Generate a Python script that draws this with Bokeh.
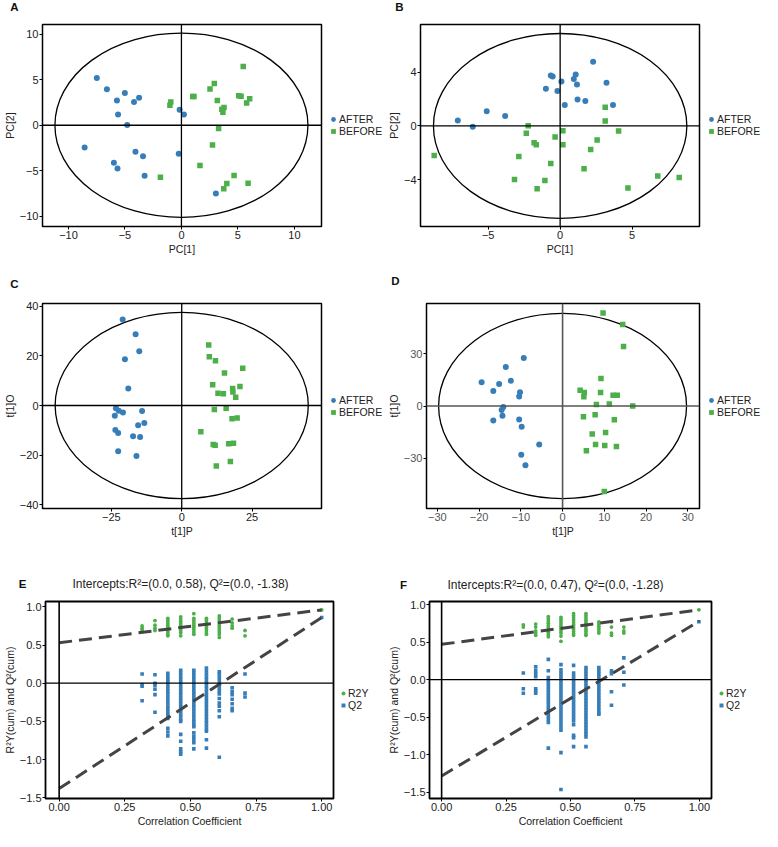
from bokeh.plotting import figure
from bokeh.models import (Span, Label, Legend, LegendItem, FixedTicker, Range1d,
                          CustomJSTickFormatter)
from bokeh.layouts import column, row
from bokeh.embed import file_html
from bokeh.resources import INLINE

FONT = "Liberation Sans"
BLUE = "#377EB8"
GREEN = "#4DAF4A"

# ---------------- Panel A (PCA) ----------------
a_after_x = [-7.49, -6.60, -5.71, -5.01, -4.20, -3.75, -5.61, -4.80, -0.16, 0.22, -8.57, -5.98, -5.66, -4.07, -3.40, -3.26, -0.24, 3.05]
a_after_y = [5.18, 3.94, 2.73, 3.55, 2.55, 3.01, 1.17, 0.04, 1.70, 1.17, -2.45, -4.11, -4.75, -2.91, -3.40, -5.53, -3.12, -7.48]
a_before_x = [5.47, 2.91, 2.53, 1.00, 1.11, -0.94, -1.02, 3.18, 3.77, 3.58, 3.67, 5.07, 5.28, 6.04, 5.77, 3.29, 2.75, 1.64, -1.86, 4.66, 4.02, 3.75, 5.90]
a_before_y = [6.45, 4.57, 3.97, 3.16, 3.16, 2.55, 2.20, 2.73, 1.95, 1.77, 1.42, 3.23, 3.19, 2.91, 2.45, -0.35, -2.16, -4.40, -5.71, -5.50, -6.38, -6.95, -6.35]
a_ellipse = [11.2, 10.1]
a_xticks = [-10, -5, 0, 5, 10]
a_yticks = [-10, -5, 0, 5, 10]

# ---------------- Panel B (PCA) ----------------
b_after_x = [-7.11, -6.07, -5.10, -3.82, -0.65, -0.52, -0.99, -0.19, 0.09, 0.32, 1.08, 0.95, 1.17, 1.21, 1.75, 2.29, 3.22, 3.67]
b_after_y = [0.40, -0.05, 1.09, 0.74, 3.76, 3.69, 2.77, 2.60, 3.32, 1.56, 3.84, 3.51, 3.09, 1.98, 1.86, 4.80, 3.22, 1.56]
b_before_x = [-8.75, -2.22, -2.35, -1.81, -1.66, -2.87, -3.17, -1.60, -1.06, -0.65, -0.35, 0.19, 0.19, 1.66, 2.12, 2.57, 3.13, 3.13, 4.06, 4.71, 6.78, 8.27]
b_before_y = [-2.20, 0.02, -0.54, -1.26, -1.41, -2.28, -3.99, -4.68, -4.06, -2.80, -0.82, -0.35, -1.41, -3.19, -1.76, -1.04, 1.39, 0.37, -0.37, -4.63, -3.74, -3.84]
b_ellipse = [8.8, 6.9]
b_xticks = [-5, 0, 5]
b_yticks = [-4, 0, 4]

# ---------------- Panel C (OPLS-DA) ----------------
c_after_x = [-21.0, -16.4, -15.1, -20.2, -19.0, -23.4, -22.4, -20.9, -23.8, -14.1, -15.5, -13.3, -23.6, -22.6, -17.3, -14.8, -22.6, -16.1]
c_after_y = [34.7, 28.8, 21.9, 18.7, 6.9, -1.1, -2.1, -2.8, -4.1, -2.2, -8.0, -7.1, -9.9, -11.1, -12.4, -12.7, -18.5, -20.4]
c_before_x = [9.6, 9.8, 12.0, 15.2, 21.7, 11.0, 12.9, 14.8, 18.1, 18.2, 20.7, 19.2, 11.6, 15.8, 17.9, 19.7, 6.8, 11.2, 11.9, 16.7, 18.4, 12.3, 17.3]
c_before_y = [24.4, 19.7, 18.1, 13.1, 15.0, 8.4, 4.9, 4.7, 6.9, 5.5, 7.7, 3.3, -1.6, -1.1, -5.4, -5.0, -10.6, -15.7, -16.1, -15.4, -15.2, -24.4, -22.6]
c_ellipse = [45.0, 37.6]
c_xticks = [-25, 0, 25]
c_yticks = [-40, -20, 0, 20, 40]

# ---------------- Panel D (OPLS-DA) ----------------
d_after_x = [-19.4, -16.6, -15.2, -13.6, -12.4, -9.3, -10.2, -10.4, -14.2, -14.6, -14.4, -16.6, -10.4, -9.8, -5.6, -9.9, -8.9]
d_after_y = [13.7, 8.6, 12.6, 22.5, 14.6, 27.6, 7.9, 5.4, -0.6, -2.3, -5.6, -8.3, -7.7, -12.0, -22.1, -28.0, -34.1]
d_before_x = [9.7, 14.4, 14.6, 9.2, 4.2, 5.2, 5.1, 9.1, 12.1, 13.1, 8.1, 11.2, 16.8, 5.0, 7.8, 12.4, 7.1, 10.3, 7.9, 10.1, 12.9, 5.7, 10.0]
d_before_y = [53.5, 46.9, 34.3, 15.9, 9.0, 7.7, 5.3, 7.7, 6.2, 6.2, 0.9, 1.1, 0.0, -6.2, -5.1, -7.9, -16.1, -15.2, -22.1, -22.7, -23.3, -25.7, -49.2]
d_ellipse = [29.7, 53.3]
d_xticks = [-30, -20, -10, 0, 10, 20, 30]
d_yticks = [-30, 0, 30]

# ---------------- Panel E (permutation test) ----------------
e_cols = [0.316, 0.365, 0.414, 0.463, 0.513, 0.561, 0.610, 0.659, 0.708, 1.0]
e_r2y = [
    [0.75, 0.72, 0.69],
    [0.82, 0.76, 0.72, 0.69],
    [0.85, 0.82, 0.79, 0.76, 0.73, 0.70, 0.67, 0.64, 0.62],
    [0.87, 0.84, 0.81, 0.78, 0.75, 0.72, 0.69, 0.66, 0.62],
    [0.91, 0.85, 0.82, 0.79, 0.76, 0.73, 0.70, 0.67, 0.64],
    [0.85, 0.82, 0.79, 0.76, 0.73, 0.70, 0.67, 0.64],
    [0.88, 0.85, 0.82, 0.79, 0.76, 0.73, 0.70, 0.67, 0.64, 0.60],
    [0.84, 0.79, 0.75, 0.72],
    [0.69, 0.62],
    [0.96],
]
e_q2 = [
    [0.12, -0.02, -0.04, -0.23],
    [0.11, 0.00, -0.03, -0.08, -0.15, -0.38],
    [0.13, 0.09, 0.05, 0.02, -0.02, -0.06, -0.10, -0.14, -0.18, -0.22, -0.26, -0.30, -0.34, -0.38, -0.42, -0.46, -0.59, -0.64, -0.69],
    [0.17, 0.13, 0.09, 0.05, 0.01, -0.03, -0.07, -0.11, -0.15, -0.19, -0.23, -0.27, -0.31, -0.35, -0.39, -0.43, -0.47, -0.50, -0.67, -0.76, -0.86, -0.90, -0.93],
    [0.17, 0.13, 0.09, 0.05, 0.01, -0.03, -0.07, -0.11, -0.15, -0.19, -0.23, -0.27, -0.31, -0.35, -0.39, -0.43, -0.47, -0.51, -0.55, -0.57, -0.65, -0.70, -0.74, -0.78, -0.86],
    [0.20, 0.16, 0.12, 0.08, 0.04, 0.00, -0.04, -0.08, -0.12, -0.16, -0.20, -0.24, -0.28, -0.32, -0.36, -0.40, -0.44, -0.48, -0.52, -0.56, -0.60, -0.63, -0.74, -0.85],
    [0.15, 0.12, 0.08, 0.03, -0.02, -0.06, -0.10, -0.14, -0.20, -0.26, -0.30, -0.36, -0.44, -0.97],
    [-0.06, -0.11, -0.15, -0.21, -0.27, -0.33, -0.36],
    [0.12, -0.13, -0.18],
    [0.86],
]
e_r2_line = [0.53, 0.96]
e_q2_line = [-1.38, 0.86]
e_title = "Intercepts:R\u00b2=(0.0, 0.58), Q\u00b2=(0.0, -1.38)"

# ---------------- Panel F (permutation test) ----------------
f_cols = [0.317, 0.365, 0.414, 0.463, 0.512, 0.560, 0.610, 0.659, 0.707, 0.998]
f_r2y = [
    [0.73, 0.70],
    [0.74, 0.70, 0.65, 0.62, 0.59],
    [0.84, 0.81, 0.78, 0.75, 0.72, 0.69, 0.66, 0.63, 0.60, 0.57],
    [0.83, 0.80, 0.77, 0.74, 0.71, 0.68, 0.65, 0.62, 0.58, 0.51],
    [0.88, 0.85, 0.82, 0.79, 0.76, 0.73, 0.70, 0.67, 0.64, 0.61, 0.59],
    [0.88, 0.85, 0.82, 0.79, 0.76, 0.73, 0.70, 0.67, 0.64, 0.61, 0.59],
    [0.77, 0.74, 0.71, 0.68, 0.65, 0.62],
    [0.77, 0.70, 0.62, 0.59],
    [0.70, 0.65, 0.62],
    [0.93],
]
f_q2 = [
    [0.09, -0.12, -0.18],
    [0.17, 0.12, 0.08, 0.04, -0.12, -0.15, -0.18],
    [0.27, 0.12, 0.03, -0.01, -0.05, -0.09, -0.13, -0.17, -0.21, -0.25, -0.29, -0.33, -0.37, -0.41, -0.45, -0.49, -0.53, -0.57, -0.91],
    [0.20, 0.13, 0.09, 0.05, 0.01, -0.03, -0.07, -0.11, -0.15, -0.19, -0.23, -0.27, -0.31, -0.35, -0.39, -0.43, -0.47, -0.51, -0.55, -0.59, -0.63, -0.67, -0.97, -1.46],
    [0.19, 0.09, 0.05, 0.01, -0.03, -0.07, -0.11, -0.15, -0.19, -0.23, -0.27, -0.31, -0.35, -0.39, -0.43, -0.47, -0.51, -0.55, -0.60, -0.74, -0.77, -0.89],
    [0.16, 0.12, 0.08, 0.04, 0.00, -0.04, -0.08, -0.12, -0.16, -0.20, -0.24, -0.28, -0.32, -0.36, -0.40, -0.44, -0.48, -0.52, -0.56, -0.60, -0.64, -0.68, -0.72, -0.76, -0.89],
    [0.16, 0.12, 0.08, 0.04, 0.00, -0.04, -0.08, -0.12, -0.16, -0.20, -0.24, -0.28, -0.32, -0.36, -0.40, -0.44, -0.46],
    [0.12, 0.08, -0.16, -0.34],
    [0.29, 0.10, -0.07],
    [0.77],
]
f_r2_line = [0.47, 0.93]
f_q2_line = [-1.28, 0.78]
f_title = "Intercepts:R\u00b2=(0.0, 0.47), Q\u00b2=(0.0, -1.28)"

line_x = [0.0, 1.0]
group_labels = ["AFTER", "BEFORE"]
perm_labels = ["R2Y", "Q2"]


def style(p, tick_color="#222222", outline=1.5):
    p.outline_line_color = "black"
    p.outline_line_width = outline
    p.outline_line_alpha = 1.0
    p.xgrid.visible = False
    p.ygrid.visible = False
    p.background_fill_color = "white"
    p.border_fill_color = "white"
    for ax in (p.xaxis, p.yaxis):
        ax.axis_line_color = None
        ax.major_tick_in = 0
        ax.major_tick_out = 3
        ax.minor_tick_line_color = None
        ax.major_tick_line_color = "black"
        ax.major_label_text_font = FONT
        ax.major_label_text_font_size = "11px"
        ax.major_label_text_color = tick_color
        ax.major_label_standoff = 1
        ax.axis_label_text_font = FONT
        ax.axis_label_text_font_size = "10.5px"
        ax.axis_label_text_font_style = "normal"
        ax.axis_label_text_color = "#222222"
        ax.axis_label_standoff = 1


def blank_fig(W, H, top=0, bottom=0):
    q = figure(width=W, height=H, x_range=Range1d(0, 1), y_range=Range1d(0, 1),
               x_axis_type=None, y_axis_type=None, output_backend="svg",
               toolbar_location=None, min_border_left=0, min_border_right=0,
               min_border_top=top, min_border_bottom=bottom)
    q.outline_line_color = None
    q.background_fill_color = "white"
    q.border_fill_color = "white"
    return q


def legend_fig(W, H, top, bottom, labels, markers, colors, glyph, x0, y0):
    # legend panel sharing the frame borders of its row; (x0, y0) = legend's
    # lower-left corner in screen px inside that frame
    q = blank_fig(W, H, top, bottom)
    items = []
    for lab, mk, col in zip(labels, markers, colors):
        r = q.scatter([-5], [-5], marker=mk, size=5, fill_color=col, line_color=None)
        items.append(LegendItem(label=lab, renderers=[r]))
    q.add_layout(Legend(items=items, location=(x0, y0), orientation="vertical",
                        border_line_color=None, background_fill_alpha=0,
                        padding=0, spacing=0, margin=0,
                        label_text_font=FONT, label_text_font_size="10.5px",
                        label_text_color="#222222", label_standoff=0,
                        glyph_width=glyph, glyph_height=glyph, label_height=10))
    return q


def header_fig(H, texts):
    q = blank_fig(762, H)
    for txt, x, y_top, bold, size in texts:
        q.add_layout(Label(x=x, y=H - y_top, x_units="screen", y_units="screen",
                           text=txt, text_font=FONT, text_font_size=size,
                           text_font_style="bold" if bold else "normal",
                           text_color="#111111" if bold else "#222222",
                           text_align="center", text_baseline="middle"))
    return q


def score_plot(ax_, ay_, bx_, by_, ell, xr, yr, xticks, yticks, xlabel, ylabel,
               W, H, left, top, bottom, cross_color="black", tick_color="#222222", cross_w=1.3):
    p = figure(width=W, height=H, x_range=Range1d(*xr), y_range=Range1d(*yr),
               output_backend="svg", toolbar_location=None,
               min_border_left=left, min_border_right=2,
               min_border_top=top, min_border_bottom=bottom)
    style(p, tick_color)
    p.xaxis.ticker = FixedTicker(ticks=xticks)
    p.yaxis.ticker = FixedTicker(ticks=yticks)
    p.xaxis.axis_label = xlabel
    p.yaxis.axis_label = ylabel
    p.add_layout(Span(location=0, dimension="width", line_color=cross_color, line_width=cross_w))
    p.add_layout(Span(location=0, dimension="height", line_color=cross_color, line_width=cross_w))
    p.ellipse(x=[0], y=[0], width=[2 * ell[0]], height=[2 * ell[1]],
              fill_color=None, line_color="black", line_width=1.3)
    p.scatter(ax_, ay_, marker="circle", size=6, fill_color=BLUE, line_color=None)
    p.scatter(bx_, by_, marker="square", size=5.5, fill_color=GREEN, line_color=None)
    return p


def flatten(cols, vals):
    xs, ys = [], []
    for c, vs in zip(cols, vals):
        for v in vs:
            xs.append(c)
            ys.append(v)
    return xs, ys


def perm_plot(cols, r2y, q2, r2line, q2line, xr, yr, W, H, left, top, bottom):
    p = figure(width=W, height=H, x_range=Range1d(*xr), y_range=Range1d(*yr),
               output_backend="svg", toolbar_location=None,
               min_border_left=left, min_border_right=2,
               min_border_top=top, min_border_bottom=bottom)
    style(p, outline=1.8)
    p.xaxis.ticker = FixedTicker(ticks=[0, 0.25, 0.5, 0.75, 1.0])
    p.yaxis.ticker = FixedTicker(ticks=[-1.5, -1.0, -0.5, 0.0, 0.5, 1.0])
    p.xaxis.formatter = CustomJSTickFormatter(code="return tick.toFixed(2);")
    p.yaxis.formatter = CustomJSTickFormatter(code="return tick.toFixed(1).replace('-', '\u2212');")
    p.xaxis.axis_label = "Correlation Coefficient"
    p.yaxis.axis_label = "R\u00b2Y(cum) and Q\u00b2(cum)"
    p.add_layout(Span(location=0, dimension="width", line_color="black", line_width=1.3))
    p.add_layout(Span(location=0, dimension="height", line_color="black", line_width=1.6))
    qx, qy = flatten(cols, q2)
    rx, ry = flatten(cols, r2y)
    p.scatter(qx, qy, marker="square", size=3.6, fill_color=BLUE, line_color=None)
    p.scatter(rx, ry, marker="circle", size=3.8, fill_color=GREEN, line_color=None)
    p.line(line_x, r2line, line_color="#444444", line_width=3, line_dash="13 7")
    p.line(line_x, q2line, line_color="#444444", line_width=3, line_dash="13 7")
    return p


# ---- row 1 (frame height 202) ----
h1 = header_fig(21, [("A", 14, 6.5, True, "11.5px"), ("B", 399, 6.5, True, "11.5px")])
pA = score_plot(a_after_x, a_after_y, a_before_x, a_before_y, a_ellipse,
                (-12.3, 12.4), (-11.1, 11.05), a_xticks, a_yticks, "PC[1]", "PC[2]",
                323, 242, 34, 3, 37)
lA = legend_fig(61, 242, 3, 37, group_labels, ["circle", "square"], [BLUE, GREEN], 12, 4, 89)
pB = score_plot(b_after_x, b_after_y, b_before_x, b_before_y, b_ellipse,
                (-9.7, 9.68), (-7.5, 7.57), b_xticks, b_yticks, "PC[1]", "PC[2]",
                317, 242, 31, 3, 37)
lB = legend_fig(61, 242, 3, 37, group_labels, ["circle", "square"], [BLUE, GREEN], 12, 4, 89)

# ---- row 2 (frame height 205) ----
h2 = header_fig(38, [("C", 14, 20, True, "11.5px"), ("D", 395, 17.5, True, "11.5px")])
pC = score_plot(c_after_x, c_after_y, c_before_x, c_before_y, c_ellipse,
                (-49.5, 49.7), (-41.6, 41.2), c_xticks, c_yticks, "t[1]P", "t[1]O",
                323, 244, 34, 2, 37)
lC = legend_fig(61, 244, 2, 37, group_labels, ["circle", "square"], [BLUE, GREEN], 12, 4, 90)
pD = score_plot(d_after_x, d_after_y, d_before_x, d_before_y, d_ellipse,
                (-32.6, 32.8), (-59.0, 59.0), d_xticks, d_yticks, "t[1]P", "t[1]O",
                317, 244, 33, 2, 37, cross_color="#555555", tick_color="#555555", cross_w=1.6)
lD = legend_fig(61, 244, 2, 37, group_labels, ["circle", "square"], [BLUE, GREEN], 12, 4, 90)

# ---- row 3 (frame height 197) ----
h3 = header_fig(52, [("E", 22, 38.5, True, "11.5px"), (e_title, 180, 38.5, False, "12px"),
                     ("F", 403, 39, True, "11.5px"), (f_title, 555, 39, False, "12px")])
pE = perm_plot(e_cols, e_r2y, e_q2, e_r2_line, e_q2_line,
               (-0.052, 1.045), (-1.51, 1.07), 335, 234, 39, 4, 33)
lE = legend_fig(49, 234, 4, 33, perm_labels, ["circle", "square"], [GREEN, BLUE], 10, 3, 87)
pF = perm_plot(f_cols, f_r2y, f_q2, f_r2_line, f_q2_line,
               (-0.047, 1.047), (-1.58, 1.04), 329, 234, 39, 4, 33)
lF = legend_fig(49, 234, 4, 33, perm_labels, ["circle", "square"], [GREEN, BLUE], 10, 3, 87)

layout = column(h1, row(pA, lA, pB, lB, spacing=0), h2,
                row(pC, lC, pD, lD, spacing=0), h3,
                row(pE, lE, pF, lF, spacing=0), spacing=0)

open("out.html", "w").write(file_html(layout, INLINE))
